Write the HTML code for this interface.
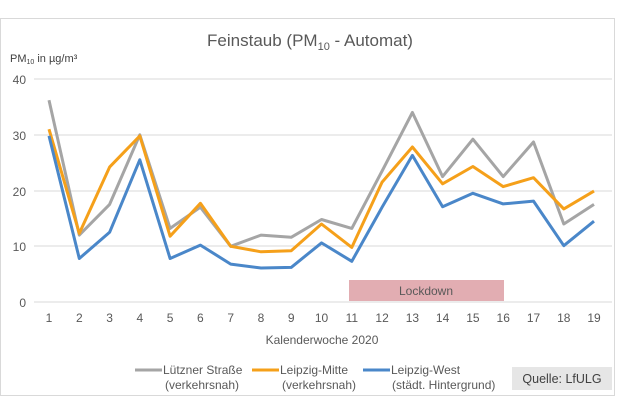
<!DOCTYPE html><html><head><meta charset="utf-8"><style>body{margin:0;background:#fff}svg{display:block;font-family:"Liberation Sans",sans-serif}</style></head><body>
<svg width="620" height="414" viewBox="0 0 620 414">
<rect x="0.5" y="18.5" width="614" height="377" fill="#fff" stroke="#d9d9d9"/>
<text x="310" y="46" font-size="17" fill="#595959" text-anchor="middle">Feinstaub (PM<tspan font-size="11" dy="4">10</tspan><tspan dy="-4"> - Automat)</tspan></text>
<text x="10" y="62" font-size="11" fill="#404040">PM<tspan font-size="7" dy="2">10</tspan><tspan dy="-2"> in µg/m³</tspan></text>
<g stroke="#d9d9d9" stroke-width="1">
<line x1="34" y1="79" x2="612" y2="79"/><line x1="34" y1="135" x2="612" y2="135"/><line x1="34" y1="191" x2="612" y2="191"/><line x1="34" y1="246" x2="612" y2="246"/><line x1="34" y1="302" x2="612" y2="302"/></g>
<g font-size="12" fill="#595959" text-anchor="end"><text x="26" y="84">40</text><text x="26" y="140">30</text><text x="26" y="196">20</text><text x="26" y="251">10</text><text x="26" y="307">0</text></g>
<rect x="349" y="280" width="155" height="21" fill="#dd9fa4" opacity="0.85"/>
<text x="426" y="295" font-size="12" fill="#595959" text-anchor="middle">Lockdown</text>
<g font-size="12" fill="#595959" text-anchor="middle">
<text x="49" y="322">1</text><text x="79.3" y="322">2</text><text x="109.6" y="322">3</text><text x="139.8" y="322">4</text><text x="170.1" y="322">5</text><text x="200.4" y="322">6</text><text x="230.7" y="322">7</text><text x="261" y="322">8</text><text x="291.2" y="322">9</text><text x="321.5" y="322">10</text><text x="351.8" y="322">11</text><text x="382.1" y="322">12</text><text x="412.4" y="322">13</text><text x="442.6" y="322">14</text><text x="472.9" y="322">15</text><text x="503.2" y="322">16</text><text x="533.5" y="322">17</text><text x="563.8" y="322">18</text><text x="594" y="322">19</text></g>
<text x="322" y="344" font-size="12" fill="#595959" text-anchor="middle">Kalenderwoche 2020</text>
<g fill="none" stroke-width="3" stroke-linejoin="round">
<polyline stroke="#a5a5a5" points="49,100.2 79.3,235.1 109.6,204.4 139.8,134.8 170.1,228.4 200.4,207.2 230.7,246.3 261,235.1 291.2,237.3 321.5,219.5 351.8,228.4 382.1,171 412.4,112.5 442.6,176.6 472.9,139.2 503.2,176.6 533.5,142 563.8,224 594,204.4"/>
<polyline stroke="#f5a01a" points="49,129.2 79.3,233.4 109.6,167.1 139.8,135.9 170.1,236.2 200.4,203.3 230.7,246.3 261,251.8 291.2,250.7 321.5,224 351.8,247.4 382.1,182.1 412.4,147 442.6,183.8 472.9,166.5 503.2,186.6 533.5,177.7 563.8,208.9 594,191.1"/>
<polyline stroke="#4a87c9" points="49,135.9 79.3,258.5 109.6,232.3 139.8,159.8 170.1,258.5 200.4,245.1 230.7,264.1 261,268 291.2,267.4 321.5,242.9 351.8,261.3 382.1,207.2 412.4,155.4 442.6,206.7 472.9,193.3 503.2,203.9 533.5,201.1 563.8,245.7 594,221.2"/>
</g>
<g stroke-width="3"><line x1="135" y1="370" x2="162" y2="370" stroke="#a5a5a5"/><line x1="252" y1="370" x2="279" y2="370" stroke="#f5a01a"/><line x1="363" y1="370" x2="390" y2="370" stroke="#4a87c9"/></g>
<g font-size="12" fill="#595959"><text x="163" y="374">Lützner Straße</text><text x="165" y="389">(verkehrsnah)</text><text x="280" y="374">Leipzig-Mitte</text><text x="282" y="389">(verkehrsnah)</text><text x="391" y="374">Leipzig-West</text><text x="392" y="389">(städt. Hintergrund)</text></g>
<rect x="512" y="367" width="100" height="23" fill="#e6e6e6"/>
<text x="562" y="383" font-size="12.5" fill="#404040" text-anchor="middle">Quelle: LfULG</text>
</svg></body></html>
